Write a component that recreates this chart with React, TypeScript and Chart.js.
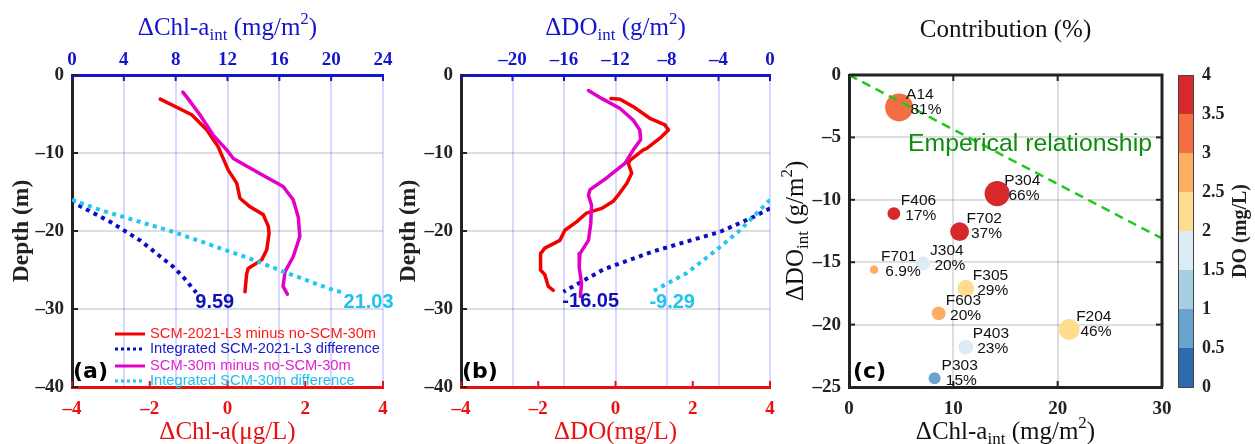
import React, { useEffect, useRef } from 'react';
import { Chart, registerables } from 'chart.js';
Chart.register(...registerables);

const SERIF = '"Liberation Serif", "Times New Roman", serif';
const SANS = '"Liberation Sans", Arial, sans-serif';
const DJ = '"DejaVu Sans", sans-serif';

// ---------------- Panel (a): ΔChl-a profiles ----------------
const aL3ChlX = [-1.73, -0.92, -0.53, -0.24, -0.19, 0.02, 0.24, 0.32, 0.58, 0.92, 1.05, 1.07, 1.01, 0.88, 0.53, 0.49, 0.45];
const aL3Depth = [-3.1, -5.1, -7.05, -9.2, -9.8, -12.2, -13.9, -15.8, -16.9, -17.9, -19.4, -20.3, -22.4, -23.7, -24.8, -25.6, -27.8];
const a30ChlX = [-1.15, -1.05, -0.71, -0.37, -0.02, 0.15, 0.75, 1.43, 1.69, 1.82, 1.86, 1.69, 1.48, 1.43, 1.54];
const a30Depth = [-2.2, -2.8, -5.1, -7.7, -9.6, -10.7, -12.4, -14.3, -16.0, -18.2, -20.7, -23.3, -25.2, -27.1, -28.1];
const aL3IntX = [0, 0.5, 2.93, 5.25, 7.82, 8.58, 9.59];
const aL3IntDepth = [-16.0, -16.7, -18.8, -21.2, -24.6, -25.9, -27.9];
const a30IntX = [0, 2.16, 7.8, 14.0, 16.3, 20.2, 21.03];
const a30IntDepth = [-16.0, -17.3, -20.1, -23.7, -25.2, -27.6, -27.9];

// ---------------- Panel (b): ΔDO profiles ----------------
const bL3DoX = [-0.12, 0.12, 0.46, 0.89, 1.28, 1.37, 1.15, 0.81, 0.72, 0.38, 0.33, 0.42, 0.29, 0.1, -0.06, -0.36, -0.75, -1.0, -1.31, -1.44, -1.83, -1.94, -1.94, -1.83, -1.74, -1.61];
const bL3Depth = [-3.0, -3.1, -4.06, -5.55, -6.4, -7.05, -8.1, -9.4, -9.6, -10.9, -11.3, -12.6, -13.9, -15.2, -16.2, -17.1, -17.7, -18.8, -19.9, -21.2, -22.2, -22.9, -25.0, -25.6, -27.1, -27.6];
const b30DoX = [-0.7, -0.36, 0.12, 0.46, 0.63, 0.65, 0.46, 0.25, -0.23, -0.66, -0.7, -0.62, -0.64, -0.7, -0.92, -0.94, -0.88, -0.91];
const b30Depth = [-2.0, -3.0, -4.3, -5.8, -7.05, -8.3, -9.6, -11.3, -13.2, -14.7, -15.4, -16.7, -19.0, -21.2, -22.9, -24.6, -26.7, -28.4];
const bL3IntX = [0, -1.29, -3.86, -9.05, -12.9, -16.05];
const bL3IntDepth = [-17.1, -18.2, -20.1, -22.6, -24.9, -27.8];
const b30IntX = [0, -2.33, -4.14, -6.47, -9.29];
const b30IntDepth = [-16.0, -19.9, -22.4, -25.4, -27.9];

const legendLabels = [
  'SCM-2021-L3 minus no-SCM-30m',
  'Integrated SCM-2021-L3 difference',
  'SCM-30m minus no-SCM-30m',
  'Integrated SCM-30m difference',
];

// ---------------- Panel (c): stations ----------------
const stations = ['A14', 'P304', 'F406', 'F702', 'J304', 'F701', 'F305', 'F603', 'F204', 'P403', 'P303'];
const chlInt = [4.8, 14.2, 4.3, 10.6, 7.1, 2.4, 11.2, 8.6, 21.1, 11.2, 8.2];
const doInt = [-2.6, -9.5, -11.1, -12.55, -15.1, -15.6, -17.1, -19.1, -20.4, -21.8, -24.3];
const contribution = [81, 66, 17, 37, 20, 6.9, 29, 20, 46, 23, 15];
const doConc = [3.2, 3.8, 3.7, 3.9, 1.8, 2.7, 2.2, 2.8, 2.2, 1.7, 0.8];
const empiricalX = [0, 30];
const empiricalY = [0, -13.1];
const cbTicks = [0, 0.5, 1, 1.5, 2, 2.5, 3, 3.5, 4];
const cbColors = ['#2c6bb0', '#68a4cf', '#a6cfe4', '#dcecf4', '#fedd8e', '#fdae61', '#f46d43', '#d7282b'];

const RED = '#f20000';
const MAG = '#e000c8';
const BLUE = '#0c0cc4';
const CYAN = '#22c6f0';
const AX_BLUE = '#1414cc';
const AX_RED = '#e81010';
const DARK = '#222222';

type Seg = { t: string; sub?: boolean; sup?: boolean };

function drawRich(ctx: CanvasRenderingContext2D, segs: Seg[], x: number, y: number, size: number, family: string, color: string, rotate = false, weight = 'normal') {
  ctx.save();
  ctx.translate(x, y);
  if (rotate) ctx.rotate(-Math.PI / 2);
  ctx.fillStyle = color;
  ctx.textBaseline = 'middle';
  ctx.textAlign = 'left';
  const fontFor = (s: Seg) => `${weight} ${s.sub || s.sup ? Math.round(size * 0.66) : size}px ${family}`;
  let total = 0;
  for (const s of segs) {
    ctx.font = fontFor(s);
    total += ctx.measureText(s.t).width;
  }
  let cx = -total / 2;
  for (const s of segs) {
    ctx.font = fontFor(s);
    const dy = s.sub ? size * 0.3 : s.sup ? -size * 0.33 : 0;
    ctx.fillText(s.t, cx, dy);
    cx += ctx.measureText(s.t).width;
  }
  ctx.restore();
}

function inwardTicks(chart: any, id: string, side: string, color: string, len = 6) {
  const sc = chart.scales[id];
  const ca = chart.chartArea;
  const ctx = chart.ctx as CanvasRenderingContext2D;
  ctx.save();
  ctx.strokeStyle = color;
  ctx.lineWidth = 2;
  for (const t of sc.ticks) {
    const p = sc.getPixelForValue(t.value);
    ctx.beginPath();
    if (side === 'left') { ctx.moveTo(ca.left, p); ctx.lineTo(ca.left + len, p); }
    if (side === 'right') { ctx.moveTo(ca.right, p); ctx.lineTo(ca.right - len, p); }
    if (side === 'top') { ctx.moveTo(p, ca.top); ctx.lineTo(p, ca.top + len); }
    if (side === 'bottom') { ctx.moveTo(p, ca.bottom); ctx.lineTo(p, ca.bottom - len); }
    ctx.stroke();
  }
  ctx.restore();
}

const pts = (xs: number[], ys: number[]) => xs.map((x, i) => ({ x, y: ys[i] }));
const TRANSPARENT = 'rgba(0,0,0,0)';
const tickFont = { family: SERIF, weight: 'bold' as const, size: 19 };
const fmtTick = (v: number) => (v < 0 ? '\u2013' + String(Math.abs(v)) : String(v));

type Series = { xs: number[]; ys: number[]; color: string; dotted: boolean; top: boolean };

function depthConfig(o: {
  bottom: [number, number];
  top: [number, number];
  hideTop: number | null;
  series: Series[];
  topTitle: Seg[];
  bottomTitle: Seg[];
  panel: string;
  depthX: number;
  legend: boolean;
  padRight: number;
  yWidth: number;
}): any {
  return {
    type: 'scatter',
    data: {
      datasets: o.series.map((s, i) => ({
        data: pts(s.xs, s.ys),
        showLine: true,
        xAxisID: s.top ? 'xTop' : 'x',
        yAxisID: 'y',
        borderColor: s.color,
        backgroundColor: s.color,
        borderWidth: s.dotted ? 4 : 3.5,
        borderDash: s.dotted ? [4, 4.5] : [],
        borderCapStyle: s.dotted ? 'butt' : 'round',
        borderJoinStyle: 'round',
        pointRadius: 0,
        tension: 0,
        order: 10 - i,
      })),
    },
    options: {
      responsive: false,
      animation: false,
      events: [],
      layout: { padding: { left: 0, right: o.padRight, top: 0, bottom: 0 } },
      plugins: { legend: { display: false }, tooltip: { enabled: false } },
      scales: {
        x: {
          type: 'linear', position: 'bottom', min: o.bottom[0], max: o.bottom[1],
          ticks: { stepSize: 2, color: AX_RED, font: tickFont, padding: 11, autoSkip: false, maxRotation: 0, callback: fmtTick },
          grid: { display: false, drawTicks: false },
          border: { display: true, color: AX_RED, width: 3 },
          afterFit: (s: any) => { s.height = 57; },
        },
        xTop: {
          type: 'linear', position: 'top', min: o.top[0], max: o.top[1],
          ticks: {
            stepSize: 4, color: AX_BLUE, font: tickFont, padding: 4, autoSkip: false, maxRotation: 0,
            callback: (v: number) => (o.hideTop !== null && v === o.hideTop ? '' : fmtTick(v)),
          },
          grid: {
            drawTicks: false, lineWidth: 2,
            color: (c: any) => (c.tick && c.tick.value === o.top[0] ? TRANSPARENT : 'rgba(110,110,255,0.28)'),
          },
          border: { display: true, color: AX_BLUE, width: 3 },
          afterFit: (s: any) => { s.height = 75; },
        },
        y: {
          type: 'linear', position: 'left', min: -40, max: 0,
          ticks: { stepSize: 10, color: DARK, font: tickFont, padding: 8, autoSkip: false, callback: fmtTick },
          grid: {
            drawTicks: false, lineWidth: 2,
            color: (c: any) => (c.tick && (c.tick.value === 0 || c.tick.value === -40) ? TRANSPARENT : 'rgba(0,0,0,0.13)'),
          },
          border: { display: true, color: DARK, width: 3 },
          afterFit: (s: any) => { s.width = o.yWidth; },
        },
      },
    },
    plugins: [
      {
        id: 'deco',
        afterDraw(chart: any) {
          const ctx = chart.ctx as CanvasRenderingContext2D;
          const ca = chart.chartArea;
          const cx = (ca.left + ca.right) / 2;
          inwardTicks(chart, 'x', 'bottom', AX_RED, 6);
          inwardTicks(chart, 'xTop', 'top', AX_BLUE, 6);
          inwardTicks(chart, 'y', 'left', DARK, 6);
          drawRich(ctx, o.topTitle, cx, 28, 25, SERIF, AX_BLUE);
          drawRich(ctx, o.bottomTitle, cx, 432, 25, SERIF, AX_RED);
          drawRich(ctx, [{ t: 'Depth (m)' }], o.depthX, (ca.top + ca.bottom) / 2, 23.5, SERIF, DARK, true, 'bold');
          // integrated totals at end of dotted lines
          o.series.forEach((s) => {
            if (!s.dotted) return;
            const lx = s.xs[s.xs.length - 1];
            const ly = s.ys[s.ys.length - 1];
            const px = chart.scales.xTop.getPixelForValue(lx);
            const py = chart.scales.y.getPixelForValue(ly);
            ctx.save();
            ctx.font = `bold 20px ${SANS}`;
            ctx.fillStyle = s.color === CYAN ? '#1ec4ec' : '#1010b8';
            ctx.textBaseline = 'middle';
            ctx.textAlign = 'left';
            ctx.fillText(lx.toFixed(2), px - 1, py + 10);
            ctx.restore();
          });
          // panel letter
          ctx.save();
          ctx.font = `bold 22px ${DJ}`;
          ctx.fillStyle = '#000';
          ctx.textBaseline = 'middle';
          ctx.textAlign = 'left';
          ctx.fillText(o.panel, ca.left + 1, 372);
          ctx.restore();
          if (o.legend) {
            const rows = [334, 349, 366, 381];
            const textColors = ['#ff1a1a', '#1a1acc', '#e020d0', '#20c0e8'];
            o.series.forEach((s, i) => {
              ctx.save();
              ctx.strokeStyle = s.color;
              ctx.lineWidth = 3;
              ctx.setLineDash(s.dotted ? [3, 3] : []);
              ctx.beginPath();
              ctx.moveTo(115, rows[i]);
              ctx.lineTo(145, rows[i]);
              ctx.stroke();
              ctx.setLineDash([]);
              ctx.font = `14.7px ${SANS}`;
              ctx.fillStyle = textColors[i];
              ctx.textBaseline = 'middle';
              ctx.textAlign = 'left';
              ctx.fillText(legendLabels[i], 150, rows[i]);
              ctx.restore();
            });
          }
        },
      },
    ],
  };
}

function scatterConfig(): any {
  const binColor = (v: number) => cbColors[Math.min(cbColors.length - 1, Math.floor(v / 0.5))];
  return {
    type: 'scatter',
    data: {
      datasets: [
        {
          data: pts(empiricalX, empiricalY),
          showLine: true,
          borderColor: '#1ec81e',
          borderWidth: 2.5,
          borderDash: [9, 6],
          pointRadius: 0,
          order: 0,
        },
        {
          type: 'bubble',
          data: chlInt.map((x, i) => ({ x, y: doInt[i], r: 1.55 * Math.sqrt(contribution[i]) })),
          backgroundColor: doConc.map(binColor),
          borderWidth: 0,
          order: 1,
        },
      ],
    },
    options: {
      responsive: false,
      animation: false,
      events: [],
      layout: { padding: { left: 0, right: 93, top: 75, bottom: 0 } },
      plugins: { legend: { display: false }, tooltip: { enabled: false } },
      scales: {
        x: {
          type: 'linear', position: 'bottom', min: 0, max: 30,
          ticks: { stepSize: 10, color: DARK, font: tickFont, padding: 11, autoSkip: false, maxRotation: 0, callback: fmtTick },
          grid: {
            drawTicks: false, lineWidth: 2,
            color: (c: any) => (c.tick && (c.tick.value === 0 || c.tick.value === 30) ? TRANSPARENT : 'rgba(0,0,0,0.13)'),
          },
          border: { display: true, color: DARK, width: 3 },
          afterFit: (s: any) => { s.height = 57; },
        },
        y: {
          type: 'linear', position: 'left', min: -25, max: 0,
          ticks: { stepSize: 5, color: DARK, font: tickFont, padding: 8, autoSkip: false, callback: fmtTick },
          grid: {
            drawTicks: false, lineWidth: 2,
            color: (c: any) => (c.tick && (c.tick.value === 0 || c.tick.value === -25) ? TRANSPARENT : 'rgba(0,0,0,0.13)'),
          },
          border: { display: true, color: DARK, width: 3 },
          afterFit: (s: any) => { s.width = 69; },
        },
      },
    },
    plugins: [
      {
        id: 'deco3',
        afterDraw(chart: any) {
          const ctx = chart.ctx as CanvasRenderingContext2D;
          const ca = chart.chartArea;
          const xs = chart.scales.x;
          const ys = chart.scales.y;
          // frame
          ctx.save();
          ctx.strokeStyle = DARK;
          ctx.lineWidth = 3;
          ctx.beginPath();
          ctx.moveTo(ca.left, ca.top);
          ctx.lineTo(ca.right, ca.top);
          ctx.lineTo(ca.right, ca.bottom);
          ctx.stroke();
          ctx.restore();
          inwardTicks(chart, 'x', 'bottom', DARK, 6);
          inwardTicks(chart, 'x', 'top', DARK, 6);
          inwardTicks(chart, 'y', 'left', DARK, 6);
          inwardTicks(chart, 'y', 'right', DARK, 6);
          // station labels
          ctx.save();
          ctx.font = `15.5px ${SANS}`;
          ctx.fillStyle = '#111';
          ctx.textAlign = 'left';
          ctx.textBaseline = 'middle';
          stations.forEach((name, i) => {
            const px = xs.getPixelForValue(chlInt[i]);
            const py = ys.getPixelForValue(doInt[i]);
            ctx.fillText(name, px + 7, py - 13);
            ctx.fillText(' ' + String(contribution[i]) + '%', px + 7, py + 2);
          });
          ctx.restore();
          // empirical label
          ctx.save();
          ctx.font = `24.8px ${SANS}`;
          ctx.fillStyle = '#0e8c0e';
          ctx.textAlign = 'left';
          ctx.textBaseline = 'middle';
          ctx.fillText('Emperical relationship', ca.left + 59, 144);
          ctx.restore();
          // colorbar
          const cbX = ca.right + 16;
          const cbW = 15;
          const cbTop = ca.top;
          const cbBot = ca.bottom;
          const cbMax = cbTicks[cbTicks.length - 1];
          const toY = (v: number) => cbBot - (v / cbMax) * (cbBot - cbTop);
          cbColors.forEach((c, i) => {
            ctx.fillStyle = c;
            const y0 = toY(cbTicks[i]);
            const y1 = toY(cbTicks[i + 1]);
            ctx.fillRect(cbX, y1, cbW, y0 - y1);
          });
          ctx.save();
          ctx.strokeStyle = '#444';
          ctx.lineWidth = 1;
          ctx.strokeRect(cbX + 0.5, cbTop + 0.5, cbW, cbBot - cbTop);
          ctx.font = `bold 18px ${SERIF}`;
          ctx.fillStyle = DARK;
          ctx.textAlign = 'left';
          ctx.textBaseline = 'middle';
          cbTicks.forEach((v) => {
            ctx.fillText(String(v), cbX + cbW + 9, toY(v));
          });
          ctx.restore();
          drawRich(ctx, [{ t: 'DO (mg/L)' }], cbX + 63, (cbTop + cbBot) / 2, 20, SERIF, DARK, true, 'bold');
          // titles
          const cx = (ca.left + ca.right) / 2;
          drawRich(ctx, [{ t: 'Contribution (%)' }], cx, 30, 25, SERIF, '#111');
          drawRich(ctx, [{ t: 'ΔChl-a' }, { t: 'int', sub: true }, { t: ' (mg/m' }, { t: '2', sup: true }, { t: ')' }], cx, 432, 25, SERIF, '#111');
          drawRich(ctx, [{ t: 'ΔDO' }, { t: 'int', sub: true }, { t: ' (g/m' }, { t: '2', sup: true }, { t: ')' }], 16, (ca.top + ca.bottom) / 2, 25, SERIF, '#111', true);
          // panel letter
          ctx.save();
          ctx.font = `bold 22px ${DJ}`;
          ctx.fillStyle = '#000';
          ctx.textBaseline = 'middle';
          ctx.textAlign = 'left';
          ctx.fillText('(c)', ca.left + 4, 372);
          ctx.restore();
        },
      },
    ],
  };
}

function ChartBox({ left, width, make }: { left: number; width: number; make: () => any }) {
  const ref = useRef<HTMLCanvasElement>(null);
  useEffect(() => {
    const chart = new Chart(ref.current as HTMLCanvasElement, make());
    return () => chart.destroy();
  }, []);
  return (
    <div style={{ position: 'absolute', left, top: 0, width, height: 444 }}>
      <canvas ref={ref} width={width} height={444} style={{ display: 'block' }} />
    </div>
  );
}

export default function App() {
  const makeA = () =>
    depthConfig({
      bottom: [-4, 4],
      top: [0, 24],
      hideTop: null,
      series: [
        { xs: aL3ChlX, ys: aL3Depth, color: RED, dotted: false, top: false },
        { xs: aL3IntX, ys: aL3IntDepth, color: BLUE, dotted: true, top: true },
        { xs: a30ChlX, ys: a30Depth, color: MAG, dotted: false, top: false },
        { xs: a30IntX, ys: a30IntDepth, color: CYAN, dotted: true, top: true },
      ],
      topTitle: [{ t: 'ΔChl-a' }, { t: 'int', sub: true }, { t: ' (mg/m' }, { t: '2', sup: true }, { t: ')' }],
      bottomTitle: [{ t: 'ΔChl-a(μg/L)' }],
      panel: '(a)',
      depthX: 22,
      legend: true,
      padRight: 17,
      yWidth: 72,
    });
  const makeB = () =>
    depthConfig({
      bottom: [-4, 4],
      top: [-24, 0],
      hideTop: -24,
      series: [
        { xs: bL3DoX, ys: bL3Depth, color: RED, dotted: false, top: false },
        { xs: bL3IntX, ys: bL3IntDepth, color: BLUE, dotted: true, top: true },
        { xs: b30DoX, ys: b30Depth, color: MAG, dotted: false, top: false },
        { xs: b30IntX, ys: b30IntDepth, color: CYAN, dotted: true, top: true },
      ],
      topTitle: [{ t: 'ΔDO' }, { t: 'int', sub: true }, { t: ' (g/m' }, { t: '2', sup: true }, { t: ')' }],
      bottomTitle: [{ t: 'ΔDO(mg/L)' }],
      panel: '(b)',
      depthX: 19,
      legend: false,
      padRight: 20,
      yWidth: 71,
    });
  return (
    <div style={{ position: 'fixed', left: 0, top: 0, width: 1255, height: 444, background: '#fff', overflow: 'hidden' }}>
      <ChartBox left={0} width={400} make={makeA} />
      <ChartBox left={390} width={400} make={makeB} />
      <ChartBox left={780} width={475} make={scatterConfig} />
    </div>
  );
}
